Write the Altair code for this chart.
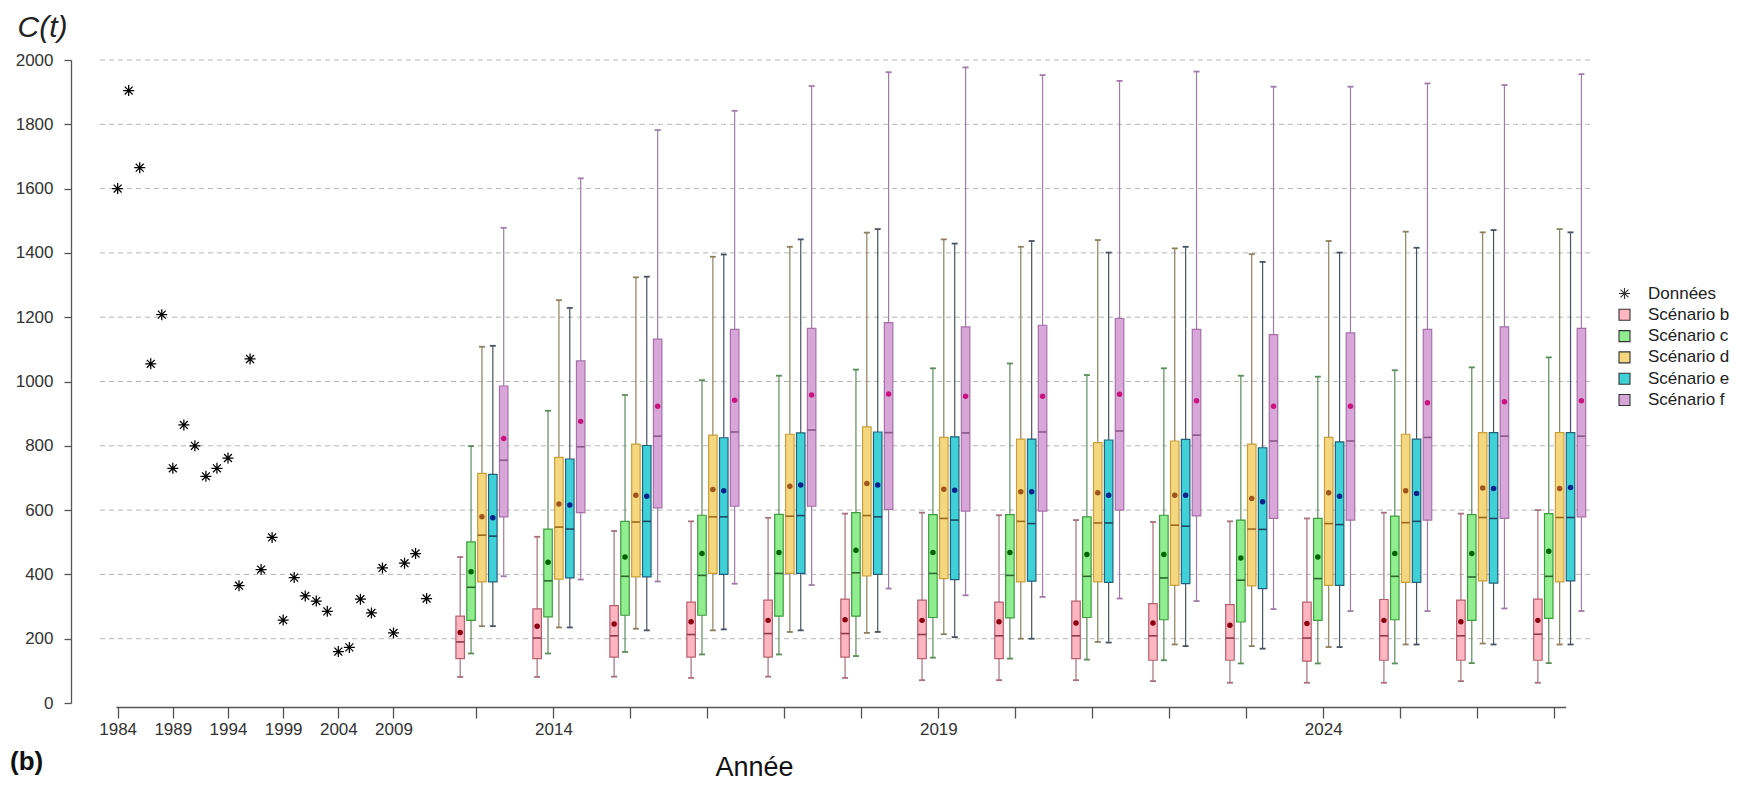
import altair as alt
import pandas as pd

# ---------------- data ----------------
obs_years = list(range(1984, 2013))
obs_values = [1600, 1905, 1665, 1055, 1208, 730, 865, 800, 705, 730, 762, 365, 1070,
              415, 515, 258, 390, 333, 317, 285, 160, 173, 323, 280, 420, 218, 435, 465, 325]

proj_years = list(range(2013, 2028))
scenarios = ["Scénario b", "Scénario c", "Scénario d", "Scénario e", "Scénario f"]
legend_names = ["Données"] + scenarios

b_hi = [454, 517, 535, 565, 576, 589, 592, 584, 569, 563, 565, 574, 592, 589, 600]
b_q3 = [270, 293, 303, 314, 320, 323, 320, 314, 317, 309, 306, 314, 322, 320, 323]
b_mean = [219, 239, 246, 253, 257, 259, 257, 253, 249, 249, 242, 247, 257, 253, 257]
b_med = [190, 202, 209, 213, 216, 216, 213, 209, 209, 209, 202, 202, 209, 209, 214]
b_q1 = [138, 138, 143, 143, 143, 143, 138, 138, 138, 133, 133, 130, 133, 133, 133]
b_lo = [81, 81, 82, 78, 82, 78, 71, 71, 71, 68, 63, 63, 63, 68, 63]

c_hi = [799, 909, 958, 1004, 1018, 1037, 1041, 1056, 1020, 1041, 1018, 1015, 1035, 1044, 1075]
c_q3 = [501, 541, 565, 584, 587, 592, 586, 586, 579, 584, 569, 574, 581, 586, 589]
c_mean = [408, 438, 454, 465, 468, 475, 468, 468, 462, 462, 451, 454, 465, 465, 472]
c_med = [360, 380, 394, 397, 403, 405, 403, 397, 394, 389, 382, 387, 394, 392, 394]
c_q1 = [257, 268, 273, 273, 270, 270, 266, 265, 266, 259, 252, 257, 259, 257, 263]
c_lo = [154, 154, 159, 151, 151, 146, 141, 138, 135, 133, 123, 123, 123, 124, 124]

d_hi = [1108, 1253, 1324, 1388, 1419, 1463, 1442, 1419, 1440, 1414, 1396, 1437, 1466, 1464, 1474]
d_q3 = [714, 764, 805, 833, 836, 859, 826, 821, 810, 815, 805, 826, 836, 841, 841]
d_mean = [579, 619, 646, 664, 674, 683, 665, 657, 654, 646, 636, 654, 660, 669, 667]
d_med = [522, 547, 563, 579, 581, 583, 574, 565, 560, 553, 541, 558, 561, 577, 577]
d_q1 = [377, 385, 392, 403, 403, 395, 387, 377, 377, 366, 364, 366, 375, 380, 377]
d_lo = [239, 235, 231, 226, 221, 218, 214, 200, 190, 182, 177, 174, 182, 185, 182]

e_hi = [1111, 1229, 1326, 1395, 1442, 1474, 1429, 1437, 1401, 1419, 1372, 1401, 1416, 1471, 1464]
e_q3 = [711, 759, 801, 825, 840, 843, 828, 821, 818, 820, 794, 812, 821, 841, 841]
e_mean = [576, 616, 643, 660, 678, 678, 662, 657, 646, 646, 626, 643, 652, 667, 670]
e_med = [519, 541, 565, 579, 583, 579, 569, 558, 560, 550, 540, 555, 565, 574, 577]
e_q1 = [377, 389, 392, 400, 403, 400, 384, 379, 375, 371, 356, 366, 375, 373, 380]
e_lo = [239, 235, 226, 229, 226, 221, 205, 200, 188, 177, 169, 174, 182, 182, 182]

f_hi = [1478, 1632, 1782, 1842, 1919, 1962, 1977, 1953, 1935, 1964, 1917, 1917, 1927, 1922, 1956]
f_q3 = [986, 1064, 1132, 1162, 1165, 1183, 1170, 1175, 1196, 1162, 1146, 1151, 1162, 1170, 1165]
f_mean = [823, 876, 923, 942, 958, 961, 954, 954, 960, 940, 923, 923, 934, 937, 940]
f_med = [755, 797, 830, 843, 849, 841, 840, 843, 846, 833, 815, 815, 826, 830, 830]
f_q1 = [579, 592, 607, 612, 612, 602, 597, 597, 600, 582, 574, 569, 569, 574, 579]
f_lo = [394, 384, 378, 371, 367, 356, 335, 330, 325, 317, 292, 286, 286, 294, 286]

grid_values = [200, 400, 600, 800, 1000, 1200, 1400, 1600, 1800, 2000]
y_ticks = [0, 200, 400, 600, 800, 1000, 1200, 1400, 1600, 1800, 2000]
x_ticks = [1984, 1989, 1994, 1999, 2004, 2009] + proj_years

# ---------------- styles ----------------
FILL = {"Scénario b": "#FFB6C1", "Scénario c": "#90EE90", "Scénario d": "#F4D77E",
        "Scénario e": "#3FD0D8", "Scénario f": "#D9A6D9"}
BORDER = {"Scénario b": "#B5606E", "Scénario c": "#3E9B3E", "Scénario d": "#C9A03C",
          "Scénario e": "#23607A", "Scénario f": "#A571A8"}
WHISK = {"Scénario b": "#A8707A", "Scénario c": "#5C8C5C", "Scénario d": "#8C8060",
         "Scénario e": "#4A5460", "Scénario f": "#A07CA8"}
MEDC = {"Scénario b": "#8E3A4C", "Scénario c": "#2C6A2C", "Scénario d": "#9A6A1C",
        "Scénario e": "#1C4A66", "Scénario f": "#8A588C"}
MEANC = {"Scénario b": "#8B0010", "Scénario c": "#006400", "Scénario d": "#A0561A",
         "Scénario e": "#00248B", "Scénario f": "#C8157E"}
ASTERISK = "M-1,0L1,0M0,-1L0,1M-0.72,-0.72L0.72,0.72M-0.72,0.72L0.72,-0.72"
FONT = "Liberation Sans"

# ---------------- tables ----------------
stats = {
    "Scénario b": (b_lo, b_q1, b_med, b_q3, b_hi, b_mean),
    "Scénario c": (c_lo, c_q1, c_med, c_q3, c_hi, c_mean),
    "Scénario d": (d_lo, d_q1, d_med, d_q3, d_hi, d_mean),
    "Scénario e": (e_lo, e_q1, e_med, e_q3, e_hi, e_mean),
    "Scénario f": (f_lo, f_q1, f_med, f_q3, f_hi, f_mean),
}
rows = []
for k, s in enumerate(scenarios):
    lo, q1, med, q3, hi, mean = stats[s]
    for i, yr in enumerate(proj_years):
        rows.append(dict(year=yr, scen=s, k=k, lo=lo[i], q1=q1[i], med=med[i],
                         q3=q3[i], hi=hi[i], mean=mean[i]))
box_df = pd.DataFrame(rows)
box_df["fc"] = box_df["scen"].map(FILL)
box_df["bc"] = box_df["scen"].map(BORDER)
box_df["wc"] = box_df["scen"].map(WHISK)
box_df["mdc"] = box_df["scen"].map(MEDC)
box_df["mnc"] = box_df["scen"].map(MEANC)

obs_df = pd.DataFrame({"year": obs_years, "val": obs_values, "serie": "Données"})
grid_df = pd.DataFrame({"g": grid_values})
lab_df = pd.DataFrame({"t": ["(b)"]})

# ---------------- scales / axes ----------------
xscale = alt.Scale(domain=[1984, 2012, 2012.7, 2027], range=[45, 355.6, 382.4, 1494.7],
                   nice=False, zero=False)
yscale = alt.Scale(domain=[0, 2000], nice=False, zero=False)

label_expr = ("(datum.value <= 2009 || datum.value == 2014 || datum.value == 2019 "
              "|| datum.value == 2024) ? datum.label : ''")
xaxis = alt.Axis(values=x_ticks, format="d", labelExpr=label_expr, labelOverlap=False,
                 labelFlush=False, offset=4, tickSize=11, labelPadding=3, grid=False,
                 domainColor="#555555", domainWidth=1.3, tickColor="#555555", tickWidth=1.3,
                 labelFontSize=17, labelColor="#333333", labelFont=FONT,
                 title="Année", titleFontSize=27, titleFontWeight="normal", titleFont=FONT,
                 titleColor="#111111", titleX=683, titleY=68, titleAlign="center",
                 titleBaseline="alphabetic")
yaxis = alt.Axis(values=y_ticks, format="d", tickSize=7, labelPadding=11, grid=False,
                 domainColor="#555555", domainWidth=1.3, tickColor="#555555", tickWidth=1.3,
                 labelFontSize=17, labelColor="#333333", labelFont=FONT,
                 title="C(t)", titleAngle=0, titleAlign="left", titleBaseline="alphabetic",
                 titleX=-54, titleY=-24, titleFontSize=30, titleFontStyle="italic",
                 titleFontWeight="normal", titleFont=FONT, titleColor="#222222")

legend = alt.Legend(title=None, orient="none", legendX=1545, legendY=225, padding=0,
                    labelFontSize=17, labelFont=FONT, labelColor="#222222", labelOffset=15,
                    symbolSize=121, symbolStrokeWidth=1.1, symbolStrokeColor="#333333",
                    rowPadding=3.3)

def Y(field):
    return alt.Y(field, scale=yscale, axis=yaxis)

# ---------------- layers ----------------
grid = alt.Chart(grid_df).mark_rule(strokeDash=[5, 4], color="#b5b5b5", strokeWidth=1).encode(
    y=Y("g:Q"), x=alt.value(29), x2=alt.value(1521))

base = alt.Chart(box_df).transform_calculate(
    xpos="datum.year + (datum.k * 11 - 16.5) / 77.78")
X = alt.X("xpos:Q", scale=xscale, axis=xaxis)

whisk = base.mark_rule(strokeWidth=1.2).encode(
    x=X, y=Y("lo:Q"), y2="hi:Q",
    stroke=alt.Stroke("wc:N", scale=None))

caps = base.transform_fold(["lo", "hi"], as_=["which", "capv"]).mark_point(
    shape="stroke", size=36, strokeWidth=1.8, filled=False, opacity=1).encode(
    x=X, y=Y("capv:Q"),
    stroke=alt.Stroke("wc:N", scale=None))

boxes = base.mark_bar(size=8.5, strokeWidth=1.2, orient="vertical").encode(
    x=X, y=Y("q1:Q"), y2="q3:Q",
    fill=alt.Fill("fc:N", scale=None), stroke=alt.Stroke("bc:N", scale=None))

medians = base.mark_point(shape="stroke", size=72, strokeWidth=1.6, filled=False,
                          opacity=1).encode(
    x=X, y=Y("med:Q"),
    stroke=alt.Stroke("mdc:N", scale=None))

means = base.mark_circle(size=30, opacity=1).encode(
    x=X, y=Y("mean:Q"),
    color=alt.Color("mnc:N", scale=None))

points = alt.Chart(obs_df).mark_point(size=121, strokeWidth=1.25, stroke="black",
                                      filled=True, opacity=1).encode(
    x=alt.X("year:Q", scale=xscale, axis=xaxis),
    y=Y("val:Q"),
    shape=alt.Shape("serie:N", scale=alt.Scale(domain=legend_names,
                    range=[ASTERISK, "square", "square", "square", "square", "square"]),
                    legend=legend),
    fill=alt.Fill("serie:N", scale=alt.Scale(domain=legend_names,
                  range=["transparent"] + [FILL[s] for s in scenarios]),
                  legend=legend))

tag = alt.Chart(lab_df).mark_text(font=FONT, fontSize=26, fontWeight="bold",
                                  align="left", baseline="alphabetic",
                                  color="#111111").encode(
    x=alt.value(-61), y=alt.value(710), text="t:N")

chart = alt.layer(grid, whisk, caps, boxes, medians, means, points, tag).properties(
    width=1529, height=643,
    autosize=alt.AutoSizeParams(type="none"),
    padding={"left": 63, "top": 52, "right": 137, "bottom": 79},
    background="white",
).configure(font=FONT).configure_view(strokeWidth=0, stroke="transparent")

chart.save("out.html", embed_options={"renderer": "svg", "actions": False})
